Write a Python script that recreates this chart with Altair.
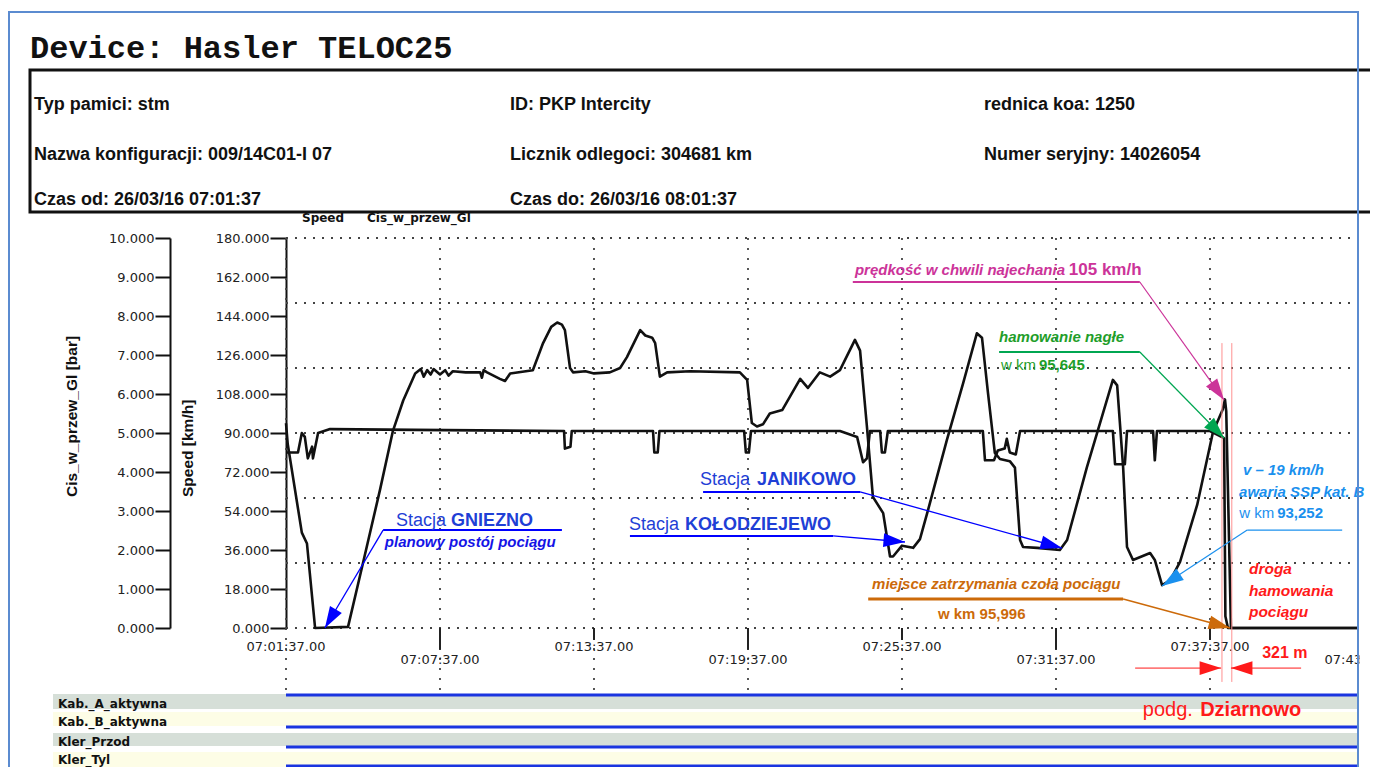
import math
import altair as alt
import pandas as pd

# ---------------- series (time = seconds after 07:01:37) ----------------
speed_t = [0, 4, 37, 49, 68, 145, 180, 220, 250, 274, 302, 315, 322, 330, 338, 345, 360, 372, 380, 390,
           420, 454, 458, 462, 470, 500, 512, 524, 577, 601, 620, 634, 645, 652, 664, 671, 700, 720,
           757, 781, 797, 828, 840, 856, 863, 874, 891, 944, 1061, 1078, 1089, 1101, 1115, 1131, 1160,
           1202, 1220, 1248, 1272, 1295, 1330, 1342, 1358, 1372, 1396, 1412, 1419, 1440, 1466, 1482,
           1501, 1545, 1583, 1615, 1627, 1641, 1657, 1669, 1692, 1704, 1716, 1723, 1756, 1809, 1826,
           1872, 1933, 1943, 1957, 1966, 1980, 2020, 2031, 2048, 2067, 2090, 2130, 2167, 2190, 2195,
           2198, 2209, 2506]
speed_v = [94.5, 85, 44, 39, 0, 0.5, 30, 64, 91, 105, 117.5, 119.5, 116, 119, 117, 119.5, 117, 119, 116.5, 118.5,
           118, 118, 115.5, 119, 118, 115, 114, 117.5, 119, 131.5, 139, 141, 140, 137.5, 120, 118, 118.5, 117.5,
           118, 120, 125, 137.5, 135, 134, 131.5, 116, 118, 118.5, 118, 114.5, 94.6, 93, 94, 99, 100.6,
           115, 110.8, 118, 116, 119, 133, 128, 93, 60.5, 53, 33, 33, 38, 37, 41,
           54.5, 86.8, 113, 136, 134, 108.5, 80.8, 78, 77, 74, 40.6, 37.4, 37, 36, 40.6,
           74, 114.5, 112, 74, 37.4, 31.4, 34.6, 31.4, 19.8, 22, 30.5, 56.8, 90.5, 101, 105.5,
           100, 0, 0]

cis_t = [0, 28, 37, 44, 51, 61, 63, 75, 103, 300,
         650, 652, 665, 668, 858, 861, 869, 873, 1071, 1075,
         1082, 1087, 1295, 1335, 1349, 1358, 1365, 1389, 1393, 1400,
         1407, 1629, 1634, 1655, 1664, 1680, 1685, 1692, 1706, 1716,
         1933, 1938, 1961, 1966, 2027, 2031, 2036, 2160, 2193, 2196,
         2202, 2506]
cis_v = [4.5, 4.5, 5.0, 4.9, 4.35, 4.65, 4.35, 5.0, 5.1, 5.08,
         5.05, 4.6, 4.65, 5.05, 5.05, 4.5, 4.5, 5.05, 5.05, 4.5,
         4.5, 5.05, 5.05, 4.9, 4.25, 4.35, 5.05, 5.05, 4.5, 4.5,
         5.05, 5.05, 4.3, 4.3, 4.55, 4.6, 4.85, 4.5, 4.45, 5.05,
         5.05, 4.2, 4.2, 5.05, 5.05, 4.3, 5.05, 5.05, 4.87, 0.3,
         0, 0]

tick_t = [0, 360, 720, 1080, 1440, 1800, 2160, 2520]
tick_labels = ["07:01:37.00", "07:07:37.00", "07:13:37.00", "07:19:37.00",
               "07:25:37.00", "07:31:37.00", "07:37:37.00", "07:43:37.00"]
speed_ticks = [0, 18, 36, 54, 72, 90, 108, 126, 144, 162, 180]
cis_ticks = [0, 1, 2, 3, 4, 5, 6, 7, 8, 9, 10]
grid_speed = [0, 30, 60, 90, 120, 150, 180]

header_col1 = ["Typ pamici: stm", "Nazwa konfiguracji: 009/14C01-I 07", "Czas od: 26/03/16 07:01:37"]
header_col2 = ["ID: PKP Intercity", "Licznik odlegoci: 304681 km", "Czas do: 26/03/16 08:01:37"]
header_col3 = ["rednica koa: 1250", "Numer seryjny: 14026054"]
lane_labels = ["Kab._A_aktywna", "Kab._B_aktywna", "Kler_Przod", "Kler_Tyl"]

# ---------------- geometry / styles ----------------
W, H = 1072, 390
T_MAX = 2506
PAD_L, PAD_T = 278, 230
TOTAL_W, TOTAL_H = 1362, 759
OX, OY = 8 + PAD_L, 8 + PAD_T

SANS = "Liberation Sans, Arial, Helvetica, sans-serif"
DJV = "DejaVu Sans, Verdana, sans-serif"
MONO = "Liberation Mono, Courier New, monospace"

BLUE_T = "#1f3fd6"
BLUE2 = "#1414e6"
BLUE_L = "#0000ff"
MAG = "#cc3399"
GREEN_T = "#1f9e2a"
GREEN_L = "#00a651"
LBLUE = "#1a90ee"
ORANGE = "#cc6a0a"
RED = "#ff1a1a"
PINK = "#ff9090"

XS = alt.Scale(domain=[0, T_MAX], nice=False, zero=False)
YS = alt.Scale(domain=[0, 180], nice=False, zero=False)
CS = alt.Scale(domain=[0, 10], nice=False, zero=False)


def px(t):
    return t * W / T_MAX


def py(v):
    return H - v * H / 180


def X(f="t"):
    return alt.X(f"{f}:Q", scale=XS, axis=None)


def Y(f="v"):
    return alt.Y(f"{f}:Q", scale=YS, axis=None)


ONE = pd.DataFrame({"k": [0]})


def prect(x1, y1, x2, y2, **kw):
    return alt.Chart(ONE).mark_rect(**kw).encode(
        x=alt.value(x1 - OX), x2=alt.value(x2 - OX), y=alt.value(y1 - OY), y2=alt.value(y2 - OY))


def prule(x1, y1, x2, y2, **kw):
    return alt.Chart(ONE).mark_rule(**kw).encode(
        x=alt.value(x1 - OX), x2=alt.value(x2 - OX), y=alt.value(y1 - OY), y2=alt.value(y2 - OY))


def ptext(x, y, s, **kw):
    kw.setdefault("font", SANS)
    kw.setdefault("align", "left")
    kw.setdefault("baseline", "alphabetic")
    kw.setdefault("color", "#111")
    return alt.Chart(ONE).mark_text(text=s, **kw).encode(x=alt.value(x - OX), y=alt.value(y - OY))


layers = []

# lower panel bands
BAND_G, BAND_Y = "#d6dfd8", "#fdfde6"
for (y1, y2, c) in [(694, 709, BAND_G), (712, 726, BAND_Y), (733, 746, BAND_G), (752, 767, BAND_Y)]:
    layers.append(prect(53, y1, 1358, y2, color=c))

# grid
gh = pd.DataFrame({"t": 0, "t2": T_MAX, "v": grid_speed})
layers.append(alt.Chart(gh).mark_rule(color="#444", strokeWidth=1.8, strokeDash=[2, 7]).encode(
    x=X("t"), x2=alt.X2("t2:Q"), y=Y("v")))
gv = pd.DataFrame({"t": tick_t[:-1], "v": 180, "v2": -29.5})
layers.append(alt.Chart(gv).mark_rule(color="#444", strokeWidth=1.8, strokeDash=[2, 8]).encode(
    x=X("t"), y=Y("v"), y2=alt.Y2("v2:Q")))
tk = pd.DataFrame({"t": tick_t[1:-1], "v": 0,
                   "v2": [-10 if i % 2 == 0 else -5.5 for i in range(len(tick_t) - 2)]})
layers.append(alt.Chart(tk).mark_rule(color="#222", strokeWidth=2).encode(
    x=X("t"), y=Y("v"), y2=alt.Y2("v2:Q")))

# data lines with axes
cis_axis = alt.Axis(orient="left", offset=116, values=cis_ticks, format=".3f", tickSize=15, tickWidth=2,
                    tickColor="#111", domainColor="#111", domainWidth=2, labelFont=DJV, labelFontSize=13,
                    labelColor="#222", labelPadding=1, grid=False, title=None, labelFlush=False,
                    labelOverlap=False, labelBound=False)
speed_axis = alt.Axis(orient="left", offset=0, values=speed_ticks, format=".3f", tickSize=16, tickWidth=2,
                      tickColor="#111", domainColor="#111", domainWidth=2, labelFont=DJV, labelFontSize=13,
                      labelColor="#222", labelPadding=1, grid=False, title=None, labelFlush=False,
                      labelOverlap=False, labelBound=False)
cis_df = pd.DataFrame({"t": cis_t, "c": cis_v})
speed_df = pd.DataFrame({"t": speed_t, "v": speed_v})
layers.append(alt.Chart(cis_df).mark_line(color="#111", strokeWidth=2.6, strokeJoin="round").encode(
    x=X("t"), y=alt.Y("c:Q", scale=CS, axis=cis_axis)))
layers.append(alt.Chart(speed_df).mark_line(color="#111", strokeWidth=2.6, strokeJoin="round").encode(
    x=X("t"), y=alt.Y("v:Q", scale=YS, axis=speed_axis)))

# header
layers.append(ptext(30, 58, "Device: Hasler TELOC25", font=MONO, fontSize=32, fontWeight="bold"))
layers.append(prect(30, 70, 1390, 212, fillOpacity=0, stroke="#111", strokeWidth=3))
row_y = [110, 160, 205]
for col_x, col in [(34, header_col1), (510, header_col2), (984, header_col3)]:
    for yy, s in zip(row_y, col):
        layers.append(ptext(col_x, yy, s, fontSize=18, fontWeight="bold"))

# legend & axis titles
layers.append(ptext(302, 222, "Speed", font=DJV, fontSize=12, fontWeight="bold"))
layers.append(ptext(367, 222, "Cis_w_przew_Gl", font=DJV, fontSize=12, fontWeight="bold"))
layers.append(ptext(72, 497, "Cis_w_przew_Gl [bar]", fontSize=15.5, fontWeight="bold", angle=270,
                    baseline="middle"))
layers.append(ptext(188, 497, "Speed [km/h]", fontSize=15.5, fontWeight="bold", angle=270,
                    baseline="middle"))

# x tick labels (alternating rows)
tl = pd.DataFrame({"t": tick_t, "s": tick_labels})
for parity, yy in [(0, 647), (1, 660)]:
    sub = tl.iloc[parity::2]
    layers.append(alt.Chart(sub).mark_text(font=DJV, fontSize=13, color="#222", baseline="middle").encode(
        x=X("t"), y=alt.value(yy - OY), text="s:N"))

# lanes
for yy in [695, 727, 747, 766]:
    layers.append(prule(286, yy, 1358, yy, color="#1a35e0", strokeWidth=3))
for yy, s in zip([704, 722, 742, 760], lane_labels):
    layers.append(ptext(58, yy, s, font=DJV, fontSize=12, fontWeight="bold", baseline="middle"))

# annotation segments: t, v, t2, v2, color, width, arrow
segs = [
    (227, 45.2, 645, 45.2, BLUE_L, 2, False),
    (227, 45.2, 91, 0, BLUE_L, 1.3, True),
    (975, 62.8, 1342, 62.8, BLUE_L, 2, False),
    (1342, 62.8, 1814, 36.9, BLUE_L, 1.3, True),
    (804, 42.5, 1279, 42.5, BLUE_L, 2, False),
    (1279, 42.5, 1447, 39.7, BLUE_L, 1.3, True),
    (1325, 159.7, 1996, 159.7, MAG, 2, False),
    (1996, 159.7, 2193, 105.2, MAG, 1.2, True),
    (1667, 127.4, 1996, 127.4, GREEN_L, 2, False),
    (1996, 127.4, 2193, 87.7, GREEN_L, 1.2, True),
    (2247, 45.2, 2469, 45.2, LBLUE, 1.2, False),
    (2247, 45.2, 2048, 19.4, LBLUE, 1.2, True),
    (1361, 13.4, 1957, 13.4, ORANGE, 3, False),
    (1957, 13.4, 2207, 0, ORANGE, 1.5, True),
    (2188, 131.5, 2188, -24.9, PINK, 1, False),
    (2211, 131.5, 2211, -24.9, PINK, 1, False),
    (1985, -18.5, 2186, -18.5, RED, 1, True),
    (2373, -18.5, 2209, -18.5, RED, 1, True),
]
seg_df = pd.DataFrame(segs, columns=["t", "v", "t2", "v2", "col", "w", "arrow"])
layers.append(alt.Chart(seg_df).mark_rule().encode(
    x=X("t"), x2=alt.X2("t2:Q"), y=Y("v"), y2=alt.Y2("v2:Q"),
    color=alt.Color("col:N", scale=None), strokeWidth=alt.StrokeWidth("w:Q", scale=None)))


def ang(t0, v0, t1, v1):
    dx = px(t1) - px(t0)
    dy = py(v1) - py(v0)
    return math.degrees(math.atan2(dx, -dy)) % 360


heads = pd.DataFrame([
    {"t": s[2], "v": s[3], "col": s[4], "a": ang(s[0], s[1], s[2], s[3])}
    for s in segs if s[6]
])
ARROW = "M0,0L0.32,1L-0.32,1Z"
layers.append(alt.Chart(heads).mark_point(shape=ARROW, filled=True, size=1850, opacity=1).encode(
    x=X("t"), y=Y("v"), angle=alt.Angle("a:Q", scale=None), color=alt.Color("col:N", scale=None)))

# annotation texts: t, v, text, color, size, weight, style, align
texts = [
    (374, 47, "Stacja", BLUE_T, 18, "normal", "normal", "right"),
    (386, 47, "GNIEZNO", BLUE_T, 18, "bold", "normal", "left"),
    (231, 37.4, "planowy postój pociągu", BLUE2, 15, "bold", "italic", "left"),
    (1085, 66, "Stacja", BLUE_T, 18, "normal", "normal", "right"),
    (1101, 66, "JANIKOWO", BLUE_T, 18, "bold", "normal", "left"),
    (919, 45.2, "Stacja", BLUE_T, 18, "normal", "normal", "right"),
    (933, 45.2, "KOŁODZIEJEWO", BLUE_T, 18, "bold", "normal", "left"),
    (1821, 162.9, "prędkość w chwili najechania", MAG, 15, "bold", "italic", "right"),
    (1830, 162.9, "105 km/h", MAG, 17, "bold", "normal", "left"),
    (1667, 132, "hamowanie nagłe", GREEN_T, 15, "bold", "italic", "left"),
    (1753, 119, "w km", GREEN_T, 15, "normal", "normal", "right"),
    (1760, 119, "95,645", GREEN_T, 15, "bold", "normal", "left"),
    (2237, 70.6, "v – 19 km/h", LBLUE, 15, "bold", "italic", "left"),
    (2228, 60.5, "awaria SSP kat. B", LBLUE, 15, "bold", "italic", "left"),
    (2310, 50.8, "w km", LBLUE, 15, "normal", "normal", "right"),
    (2317, 50.8, "93,252", LBLUE, 15, "bold", "normal", "left"),
    (1370, 18, "miejsce zatrzymania czoła pociągu", ORANGE, 15, "bold", "italic", "left"),
    (1524, 4.15, "w km 95,996", ORANGE, 15, "bold", "normal", "left"),
    (2251, 24.9, "droga", RED, 15.5, "bold", "italic", "left"),
    (2251, 14.8, "hamowania", RED, 15.5, "bold", "italic", "left"),
    (2251, 5.1, "pociągu", RED, 15.5, "bold", "italic", "left"),
    (2282, -13.8, "321 m", RED, 16, "bold", "normal", "left"),
    (2120, -40.6, "podg.", RED, 20, "normal", "normal", "right"),
    (2137, -40.6, "Dziarnowo", RED, 20, "bold", "normal", "left"),
]
tdf = pd.DataFrame(texts, columns=["t", "v", "s", "col", "size", "weight", "style", "align"])
for (wt, st, al), grp in tdf.groupby(["weight", "style", "align"]):
    layers.append(alt.Chart(grp[["t", "v", "s", "col", "size"]]).mark_text(
        font=SANS, fontWeight=wt, fontStyle=st, align=al, baseline="alphabetic").encode(
        x=X("t"), y=Y("v"), text="s:N", color=alt.Color("col:N", scale=None),
        size=alt.Size("size:Q", scale=None)))

# right edge cover and outer frame
layers.append(prect(1359.5, 638, 1380, 672, color="white"))
layers.append(prect(9, 12, 1358, 800, fillOpacity=0, stroke="#5b8bd0", strokeWidth=2))

chart = alt.layer(*layers).resolve_scale(y="independent").properties(
    width=W, height=H,
    autosize=alt.AutoSizeParams(type="none"),
    padding={"left": PAD_L, "top": PAD_T, "right": TOTAL_W - PAD_L - W, "bottom": TOTAL_H - PAD_T - H},
).configure_view(strokeWidth=0)

chart.save("out.html", embed_options={"renderer": "svg", "actions": False})
